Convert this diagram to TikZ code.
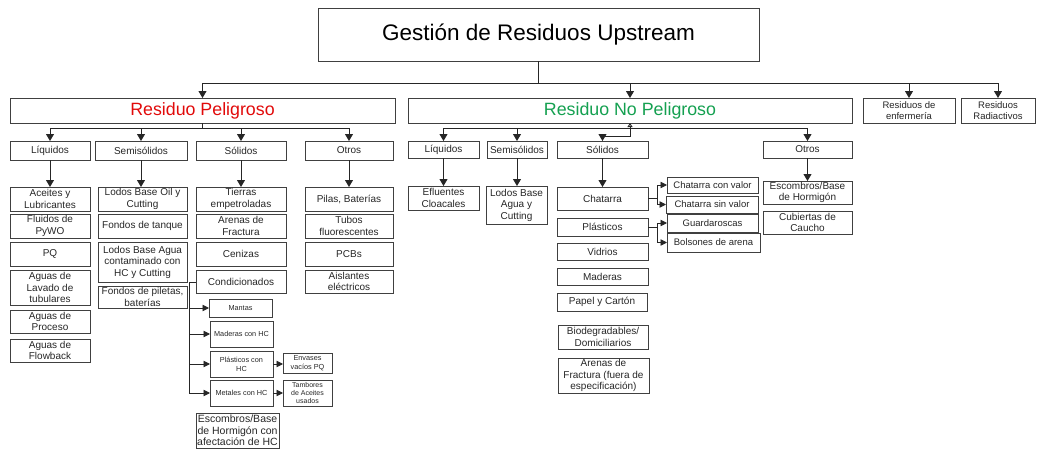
\documentclass[tikz,border=0pt]{standalone}
\usepackage{fontspec}
\setmainfont{Liberation Sans}
\usetikzlibrary{arrows.meta}
\definecolor{peligro}{RGB}{225,10,10}
\definecolor{nopeligro}{RGB}{20,160,80}
\newcommand\mybox[6][]{\node[bx,#1,minimum width={(#4-#2)*1pt},minimum height={(#5-#3)*1pt}] at ({(#2+#4)/2},{(#3+#5)/2}) {#6};}
\begin{document}
\begin{tikzpicture}[x=1pt,y=-1pt,
  bx/.style={draw=black!75, line width=0.9pt, inner sep=0pt, outer sep=0pt, align=center, text=black!85, font=\fontsize{10}{11.5}\selectfont},
  arr/.style={draw=black!85, line width=0.9pt, -{Triangle[width=8pt,length=7pt]}},
  sarr/.style={draw=black!85, line width=0.9pt, -{Triangle[width=6.5pt,length=6.5pt]}},
  ln/.style={draw=black!85, line width=0.9pt},
  cat/.style={font=\fontsize{10}{11}\selectfont},
  sm/.style={font=\fontsize{9.5}{10.5}\selectfont},
  tiny/.style={font=\fontsize{7.3}{9}\selectfont},
]
\useasboundingbox (0,0) rectangle (1037,450);
% top
\mybox[name=title,font=\fontsize{22.5}{26}\selectfont,text=black]{318}{8}{759}{61}{Gestión de Residuos Upstream}
\mybox[name=rp,font=\fontsize{17.8}{20}\selectfont,text=peligro]{10}{98}{395}{123}{Residuo Peligroso}
\mybox[name=rnp,font=\fontsize{17.8}{20}\selectfont,text=nopeligro]{408}{98}{852}{123}{Residuo No Peligroso}
\mybox[name=enf,font=\fontsize{9.5}{11}\selectfont]{863}{98}{955}{123}{Residuos de\\enfermería}
\mybox[name=rad,font=\fontsize{9.5}{11}\selectfont]{961}{98}{1035}{123}{Residuos\\Radiactivos}
\coordinate (bus) at (0,83);
\draw[arr] (title.south) -- (title.south |- bus) -| (rp.north);
\draw[arr] (title.south |- bus) -| (rnp.north);
\draw[arr] (title.south |- bus) -| (enf.north);
\draw[arr] (title.south |- bus) -| (rad.north);

% Peligroso categories
\mybox[name=pliq,cat]{10}{141}{90}{160}{Líquidos}
\mybox[name=psemi,cat]{95}{141}{187}{160}{Semisólidos}
\mybox[name=psol,cat]{196}{141}{286}{160}{Sólidos}
\mybox[name=potr,cat]{305}{141}{393}{160}{Otros}
\coordinate (pb) at (0,128);
\draw[ln] (rp.south) -- (rp.south |- pb);
\draw[arr] (rp.south |- pb) -| (pliq.north);
\draw[arr] (rp.south |- pb) -| (psemi.north);
\draw[arr] (rp.south |- pb) -| (psol.north);
\draw[arr] (rp.south |- pb) -| (potr.north);

% Peligroso Liquidos
\mybox[name=acei]{10}{187}{90}{211}{Aceites y\\Lubricantes}
\mybox[name=flui]{10}{214}{90}{238}{Fluidos de\\PyWO}
\mybox[name=pq]{10}{242}{90}{266}{PQ}
\mybox[name=lav]{10}{270}{90}{305}{Aguas de\\Lavado de\\tubulares}
\mybox[name=proc]{10}{310}{90}{333}{Aguas de\\Proceso}
\mybox[name=flow]{10}{339}{90}{362}{Aguas de\\Flowback}
\draw[arr] (pliq.south) -- (acei.north);
% Semisolidos
\mybox[name=lbo]{98}{187}{187}{211}{Lodos Base Oil y\\Cutting}
\mybox[name=ftan]{98}{214}{187}{238}{Fondos de tanque}
\mybox[name=lba]{98}{242}{187}{282}{Lodos Base Agua\\contaminado con\\HC y Cutting}
\mybox[name=fpil]{98}{286}{187}{308}{Fondos de piletas,\\baterías}
\draw[arr] (psemi.south) -- (psemi.south |- lbo.north);
% Solidos
\mybox[name=tier]{196}{187}{286}{211}{Tierras\\empetroladas}
\mybox[name=aren]{196}{214}{286}{238}{Arenas de\\Fractura}
\mybox[name=ceni]{196}{242}{286}{266}{Cenizas}
\mybox[name=cond]{196}{270}{286}{293}{Condicionados}
\draw[arr] (psol.south) -- (tier.north);
% Otros
\mybox[name=pila]{305}{187}{393}{211}{Pilas, Baterías}
\mybox[name=tubo]{305}{214}{393}{238}{Tubos\\fluorescentes}
\mybox[name=pcb]{305}{242}{393}{266}{PCBs}
\mybox[name=aisl]{305}{270}{393}{293}{Aislantes\\eléctricos}
\draw[arr] (potr.south) -- (pila.north);

% Fondos subtree
\mybox[name=mant,tiny]{209}{299}{272}{317}{Mantas}
\mybox[name=made,tiny]{210}{321}{273}{347}{Maderas con HC}
\mybox[name=plhc,tiny]{210}{351}{273}{377}{Plásticos con\\HC}
\mybox[name=met,tiny]{210}{380}{273}{406}{Metales con HC}
\mybox[name=env,tiny]{283}{353}{332}{373}{Envases\\vacíos PQ}
\mybox[name=tamb,font=\fontsize{7}{8.3}\selectfont]{283}{380}{332}{406}{Tambores\\de Aceites\\usados}
\mybox[name=escp,font=\fontsize{10.5}{11.5}\selectfont]{196}{413}{279}{448}{Escombros/Base\\de Hormigón con\\afectación de HC}
\coordinate (fv) at (189,282);
\draw[ln] (cond.west |- fv) -- (fv) -- (fv |- met.west);
\draw[sarr] (fv |- mant.west) -- (mant.west);
\draw[sarr] (fv |- made.west) -- (made.west);
\draw[sarr] (fv |- plhc.west) -- (plhc.west);
\draw[sarr] (fv |- met.west) -- (met.west);
\draw[sarr] (plhc.east) -- (env.west |- plhc.east);
\draw[sarr] (met.east) -- (tamb.west |- met.east);

% No Peligroso categories
\mybox[name=nliq,cat]{408}{141}{479}{158}{Líquidos}
\mybox[name=nsemi,cat]{487}{141}{547}{158}{Semisólidos}
\mybox[name=nsol,cat]{557}{141}{648}{158}{Sólidos}
\mybox[name=notr,cat]{763}{141}{852}{158}{Otros}
\coordinate (npb) at (0,128);
\coordinate (nsk) at (630,136);
\draw[ln,-{Triangle[open,width=5pt,length=4pt]}] (rnp.south |- npb) -- (rnp.south);
\draw[arr] (rnp.south |- npb) -| (nliq.north);
\draw[arr] (rnp.south |- npb) -| (nsemi.north);
\draw[arr] (rnp.south |- npb) -| (notr.north);
\draw[arr] (rnp.south |- npb) -- (nsk) -| (nsol.north);

% NP leaves
\mybox[name=eflu]{408}{186}{479}{210}{Efluentes\\Cloacales}
\draw[arr] (nliq.south) -- (eflu.north);
\mybox[name=lbag]{486}{186}{547}{224}{Lodos Base\\Agua y\\Cutting}
\draw[arr] (nsemi.south) -- (nsemi.south |- lbag.north);
\mybox[name=chat]{557}{187}{648}{210}{Chatarra}
\mybox[name=npl]{557}{218}{648}{236}{Plásticos}
\mybox[name=vidr]{557}{243}{648}{260}{Vidrios}
\mybox[name=nmad]{557}{268}{648}{285}{Maderas}
\mybox[name=pap]{557}{293}{647}{311}{Papel y Cartón}
\mybox[name=biod]{558}{325}{648}{349}{Biodegradables/\\Domiciliarios}
\mybox[name=narf]{558}{358}{649}{393}{Arenas de\\Fractura (fuera de\\especificación)}
\draw[arr] (nsol.south) -- (nsol.south |- chat.north);
\mybox[name=ccv,sm]{667}{177}{758}{193}{Chatarra con valor}
\mybox[name=csv,sm]{666}{196}{758}{213}{Chatarra sin valor}
\mybox[name=guar,sm]{667}{214}{758}{232}{Guardaroscas}
\mybox[name=bols,sm]{667}{233}{760}{252}{Bolsones de arena}
\coordinate (cj) at (657,0);
\draw[ln] (chat.east) -- (cj |- chat.east);
\draw[ln] (cj |- ccv.west) -- (cj |- csv.west);
\draw[sarr] (cj |- ccv.west) -- (ccv.west);
\draw[sarr] (cj |- csv.west) -- (csv.west);
\draw[ln] (npl.east) -- (cj |- npl.east);
\draw[ln] (cj |- guar.west) -- (cj |- bols.west);
\draw[sarr] (cj |- guar.west) -- (guar.west);
\draw[sarr] (cj |- bols.west) -- (bols.west);
\mybox[name=nesc]{763}{181}{852}{204}{Escombros/Base\\de Hormigón}
\mybox[name=cubi]{763}{211}{852}{234}{Cubiertas de\\Caucho}
\draw[arr] (notr.south) -- (nesc.north);
\end{tikzpicture}
\end{document}
